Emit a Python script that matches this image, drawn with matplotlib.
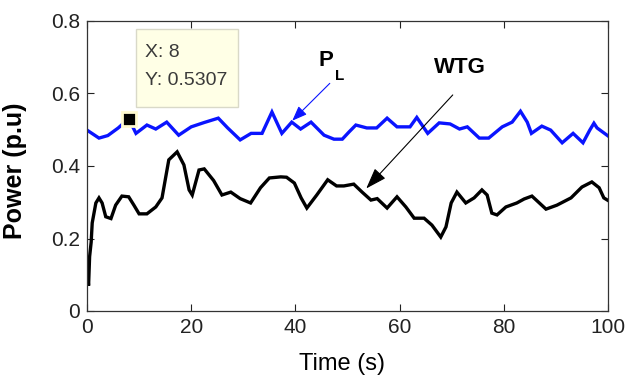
import matplotlib
matplotlib.use("Agg")
import matplotlib.pyplot as plt
from matplotlib.patches import Rectangle

# load power P_L (blue) and wind turbine generator output (black), p.u. vs time (s)
t_load = [0, 2.3, 4, 6, 8, 9.4, 10.5, 11.5, 13.2, 15.3, 17.6, 20, 22.5, 25.2, 27,
          29.4, 31.5, 33.6, 34.5, 35.5, 36.5, 37.4, 39.3, 41, 43, 45.5, 47.4, 49,
          50.3, 51.6, 53.7, 55.6, 57.6, 59.5, 62, 63.3, 64.3, 65.4, 67.6, 69.7,
          71.5, 73, 75.3, 77.1, 79.7, 81.6, 83.2, 84.5, 85.3, 87.3, 89, 91.2, 93.3,
          95.2, 96.5, 97.3, 97.9, 100]
p_load = [0.499, 0.477, 0.484, 0.505, 0.5307, 0.490, 0.502, 0.513, 0.502, 0.521,
          0.485, 0.508, 0.520, 0.532, 0.505, 0.472, 0.490, 0.490, 0.518, 0.549,
          0.518, 0.490, 0.521, 0.502, 0.521, 0.485, 0.474, 0.474, 0.494, 0.513,
          0.505, 0.505, 0.532, 0.508, 0.508, 0.534, 0.513, 0.490, 0.519, 0.516,
          0.502, 0.508, 0.477, 0.477, 0.508, 0.521, 0.551, 0.521, 0.490, 0.510,
          0.499, 0.464, 0.490, 0.464, 0.499, 0.518, 0.505, 0.483]

t_wtg = [0, 0.3, 0.5, 0.8, 1.0, 1.7, 2.3, 2.9, 3.6, 4.6, 5.5, 6.7, 8, 9, 10, 11.5,
         13.2, 14.4, 15.7, 17.3, 18.6, 19.6, 20.2, 21.5, 22.5, 24.3, 25.9, 27.6,
         29.4, 31.4, 33.3, 35, 37.2, 38.3, 39.8, 41.1, 42.2, 44.1, 46.2, 47.9,
         49.3, 51.2, 52.8, 54.5, 55.7, 57.6, 59.5, 61.2, 62.8, 64.7, 66.2, 67.9,
         68.9, 69.9, 71, 72.7, 74.3, 75.8, 76.8, 77.7, 78.7, 80.4, 82.5, 83.9,
         85.4, 88.1, 90.2, 92.9, 95, 96.9, 98.3, 99.2, 100]
p_wtg = [0.13, 0.07, 0.15, 0.19, 0.243, 0.298, 0.312, 0.298, 0.260, 0.255, 0.292,
         0.317, 0.315, 0.292, 0.268, 0.268, 0.287, 0.312, 0.417, 0.439, 0.403,
         0.334, 0.320, 0.389, 0.392, 0.360, 0.320, 0.328, 0.310, 0.298, 0.340,
         0.367, 0.370, 0.369, 0.353, 0.312, 0.284, 0.320, 0.362, 0.345, 0.345,
         0.350, 0.328, 0.306, 0.310, 0.284, 0.315, 0.287, 0.256, 0.256, 0.237,
         0.204, 0.232, 0.298, 0.328, 0.298, 0.312, 0.334, 0.320, 0.270, 0.265,
         0.287, 0.298, 0.309, 0.317, 0.281, 0.292, 0.312, 0.342, 0.356, 0.340,
         0.312, 0.305]

# data cursor
tip_x = 8
tip_y = 0.5307

x_ticks = [0, 20, 40, 60, 80, 100]
y_ticks = [0, 0.2, 0.4, 0.6, 0.8]

plt.rcParams['font.family'] = ['Liberation Sans', 'DejaVu Sans']

fig = plt.figure(figsize=(6.26, 3.85), dpi=100)
ax = fig.add_axes([87 / 626, 74 / 385, 521 / 626, 290 / 385])

ax.plot(t_load, p_load, color='#0a14ff', lw=2.4, solid_joinstyle='miter')
ax.plot(t_wtg, p_wtg, color='black', lw=2.4, solid_joinstyle='miter')

ax.set_xlim(0, 100)
ax.set_ylim(0, 0.8)
ax.set_xticks(x_ticks)
ax.set_yticks(y_ticks)
ax.set_yticklabels([f'{v:g}' for v in y_ticks])
ax.tick_params(direction='in', top=True, right=True, length=5, width=0.8,
               labelsize=15, pad=5, colors='#222222')
for s in ax.spines.values():
    s.set_linewidth(0.9)
    s.set_color('#333333')

ax.set_xlabel('Time (s)', fontsize=17)
ax.set_ylabel('Power (p.u)', fontsize=18, fontweight='bold')
ax.xaxis.set_label_coords(0.49, -0.145)
ax.yaxis.set_label_coords(-0.115, 0.485)

# data cursor marker and its tooltip
ax.plot([tip_x], [tip_y], marker='s', ms=10, color='black',
        markeredgecolor='#fffad0', markeredgewidth=2, zorder=5)
ax.add_patch(Rectangle((9.4, 0.563), 19.6, 0.215, fc='#ffffe6', ec='#d9d9c8',
                       lw=1, zorder=4))
ax.text(11.1, 0.712, f'X: {tip_x}', fontsize=14, color='#3a3a3a',
        va='center', ha='left', zorder=6)
ax.text(11.1, 0.637, f'Y: {tip_y}', fontsize=14, color='#3a3a3a',
        va='center', ha='left', zorder=6)

# P_L label with arrow
ax.annotate('', xy=(39.4, 0.525), xytext=(46.6, 0.628),
            arrowprops=dict(arrowstyle='-|>,head_length=0.9,head_width=0.35',
                            color='#0a14ff', lw=0.8, shrinkA=0, shrinkB=0))
ax.text(45.9, 0.69, 'P', fontsize=16, fontweight='bold', color='black',
        ha='center', va='center')
ax.text(48.4, 0.648, 'L', fontsize=11, fontweight='bold', color='black',
        ha='center', va='center')

# WTG label with arrow
ax.annotate('', xy=(53.6, 0.338), xytext=(70.2, 0.596),
            arrowprops=dict(arrowstyle='-|>,head_length=1.3,head_width=0.45',
                            color='black', lw=0.8, shrinkA=0, shrinkB=0))
ax.text(71.6, 0.672, 'WTG', fontsize=16, fontweight='bold', color='black',
        ha='center', va='center')

fig.savefig('out.png', dpi=100)
